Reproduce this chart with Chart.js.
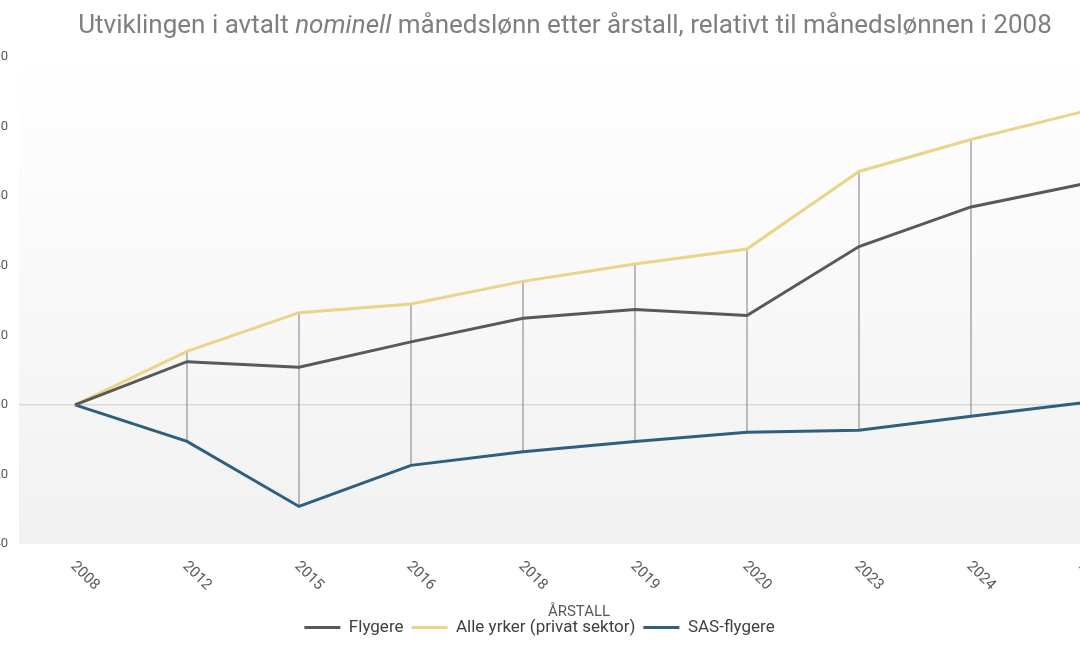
<!DOCTYPE html>
<html>
<head>
<meta charset="utf-8">
<script src="https://cdn.jsdelivr.net/npm/chart.js@4.4.1/dist/chart.umd.min.js"></script>
<style>
    html, body { margin: 0; padding: 0; background: #ffffff; overflow: hidden; }
    body { width: 1080px; height: 650px; position: relative; }
    #title {
        position: absolute; top: 8px; left: 0; width: 1130px; text-align: center;
        font-family: Roboto, "Noto Sans", sans-serif; font-size: 26px; color: #7f7f7f;
        white-space: nowrap; line-height: 32px;
    }
    #wrap { position: absolute; left: -60px; top: 0; width: 1250px; height: 650px; }
</style>
</head>
<body>
<div id="wrap"><canvas id="lonnChart" width="1250" height="650"></canvas></div>
<div id="title">Utviklingen i avtalt <i>nominell</i> månedslønn etter årstall, relativt til månedslønnen i 2008</div>
<script>
// Data (prosent endring fra 2008)
const years = ['2008', '2012', '2015', '2016', '2018', '2019', '2020', '2023', '2024', '2025'];
const flygere = [0, 12.4, 10.8, 18.1, 24.9, 27.4, 25.7, 45.5, 56.9, 63.5];
const alleYrker = [0, 15.4, 26.5, 29.0, 35.5, 40.5, 44.8, 67.1, 76.3, 84.3];
const sasFlygere = [0, -10.5, -29.2, -17.4, -13.5, -10.5, -7.9, -7.3, -3.3, 0.6];
const yTicks = { min: -40, max: 100, step: 20 };

// Plot background gradient
const plotBg = {
    id: 'plotBg',
    beforeDraw(chart) {
        const { ctx, chartArea: a } = chart;
        const g = ctx.createLinearGradient(0, a.top, 0, a.bottom);
        g.addColorStop(0, '#ffffff');
        g.addColorStop(1, '#f1f1f1');
        ctx.save();
        ctx.fillStyle = g;
        ctx.fillRect(a.left, a.top, a.right - a.left, a.bottom - a.top);
        ctx.restore();
    }
};

// High-low lines between highest and lowest series
const hiLo = {
    id: 'hiLo',
    beforeDatasetsDraw(chart) {
        const { ctx } = chart;
        const metas = chart.data.datasets.map((d, i) => chart.getDatasetMeta(i));
        ctx.save();
        ctx.strokeStyle = '#a6a6a6';
        ctx.lineWidth = 1.5;
        metas[0].data.forEach((pt, i) => {
            const ys = metas.map(m => m.data[i].y);
            ctx.beginPath();
            ctx.moveTo(pt.x, Math.min(...ys));
            ctx.lineTo(pt.x, Math.max(...ys));
            ctx.stroke();
        });
        ctx.restore();
    }
};

// Rotated x labels (slanting down to the right)
const xLabels = {
    id: 'xLabels',
    afterDraw(chart) {
        const { ctx, chartArea: a } = chart;
        const xs = chart.scales.x;
        ctx.save();
        ctx.font = '15px Roboto, "Noto Sans", sans-serif';
        ctx.fillStyle = '#595959';
        ctx.textAlign = 'left';
        ctx.textBaseline = 'middle';
        years.forEach((lab, i) => {
            ctx.save();
            ctx.translate(xs.getPixelForTick(i) - 2, a.bottom + 20);
            ctx.rotate(Math.PI / 4);
            ctx.fillText(lab, 0, 0);
            ctx.restore();
        });
        ctx.restore();
    }
};

const ctx = document.getElementById('lonnChart').getContext('2d');
new Chart(ctx, {
    type: 'line',
    data: {
        labels: years,
        datasets: [{
            label: 'Flygere',
            data: flygere,
            borderColor: '#595959',
            backgroundColor: '#595959',
            borderWidth: 3
        }, {
            label: 'Alle yrker (privat sektor)',
            data: alleYrker,
            borderColor: '#e8d588',
            backgroundColor: '#e8d588',
            borderWidth: 3
        }, {
            label: 'SAS-flygere',
            data: sasFlygere,
            borderColor: '#2e5f7f',
            backgroundColor: '#2e5f7f',
            borderWidth: 3
        }]
    },
    options: {
        responsive: false,
        animation: false,
        elements: {
            point: { radius: 0, hoverRadius: 0 },
            line: { tension: 0 }
        },
        layout: { padding: { top: 57, right: 51, bottom: 4, left: 0 } },
        scales: {
            x: {
                type: 'category',
                offset: true,
                grid: { display: false },
                border: { display: false },
                ticks: { display: false },
                title: {
                    display: true,
                    text: 'ÅRSTALL',
                    color: '#595959',
                    font: { family: 'Roboto, "Noto Sans", sans-serif', size: 15 },
                    padding: { top: 0, bottom: -10 }
                },
                afterFit(scale) { scale.height = 67; }
            },
            y: {
                min: yTicks.min,
                max: yTicks.max,
                border: { display: false },
                grid: {
                    drawTicks: false,
                    color: c => (c.tick && c.tick.value === 0) ? '#d9d9d9' : 'rgba(0,0,0,0)',
                    lineWidth: 1.5
                },
                ticks: {
                    stepSize: yTicks.step,
                    padding: 11,
                    color: '#595959',
                    font: { family: 'Roboto, "Noto Sans", sans-serif', size: 13 }
                },
                afterFit(scale) { scale.width = 79; }
            }
        },
        plugins: {
            title: { display: false },
            tooltip: { enabled: false },
            legend: {
                position: 'bottom',
                labels: {
                    usePointStyle: true,
                    pointStyle: 'line',
                    pointStyleWidth: 36,
                    padding: 8,
                    color: '#404040',
                    font: { family: 'Roboto, "Noto Sans", sans-serif', size: 17 }
                }
            }
        }
    },
    plugins: [plotBg, hiLo, xLabels]
});
</script>
</body>
</html>
